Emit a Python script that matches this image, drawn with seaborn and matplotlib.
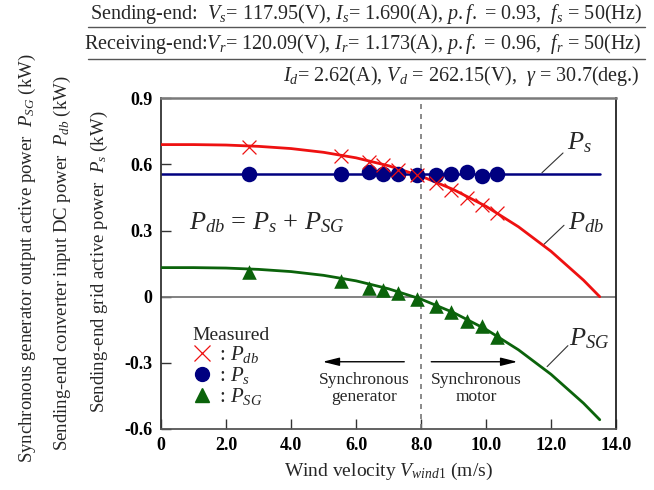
import matplotlib
matplotlib.use("Agg")
import matplotlib.pyplot as plt
import seaborn as sns
import pandas as pd
from matplotlib.lines import Line2D

# ---------------- data ----------------
# measured points (wind velocity m/s)
v_meas = [2.70, 5.54, 6.41, 6.84, 7.30, 7.89, 8.46, 8.91, 9.40, 9.88, 10.35]
pdb_meas = [0.680, 0.638, 0.611, 0.599, 0.573, 0.550, 0.516, 0.486, 0.449, 0.418, 0.380]
ps_meas = [0.557, 0.558, 0.567, 0.558, 0.558, 0.551, 0.550, 0.556, 0.564, 0.546, 0.558]
psg_meas = [0.113, 0.072, 0.038, 0.030, 0.015, -0.010, -0.040, -0.070, -0.111, -0.131, -0.183]

# calculated curves
v_curve = [0, 1, 2, 3, 4, 5, 6, 7, 8, 9, 10, 11, 12, 13, 13.5]
pdb_curve = [0.690, 0.690, 0.688, 0.682, 0.672, 0.655, 0.630, 0.594, 0.547, 0.486,
             0.410, 0.317, 0.206, 0.075, 0.000]
ps_curve = [0.558] * 15
psg_curve = [0.132, 0.132, 0.130, 0.124, 0.114, 0.097, 0.072, 0.036, -0.011, -0.072,
             -0.148, -0.241, -0.352, -0.483, -0.558]

x_ticks = [0, 2, 4, 6, 8, 10, 12, 14]
x_ticklabels = ["0", "2.0", "4.0", "6.0", "8.0", "10.0", "12.0", "14.0"]
y_ticks = [-0.6, -0.3, 0, 0.3, 0.6, 0.9]
y_ticklabels = ["-0.6", "-0.3", "0", "0.3", "0.6", "0.9"]

header1 = r"Sending-end:  $V_s$= 117.95(V), $I_s$= 1.690(A), $p.f.$ = 0.93,  $f_s$ = 50(Hz)"
header2 = r"Receiving-end:$V_r$= 120.09(V), $I_r$= 1.173(A), $p.f.$ = 0.96,  $f_r$ = 50(Hz)"
header3 = r"$I_d$= 2.62(A), $V_d$ = 262.15(V),  $\gamma$ = 30.7(deg.)"

# ---------------- style ----------------
sns.set_style("ticks")
plt.rcParams["font.family"] = ["Liberation Serif", "DejaVu Serif"]
plt.rcParams["mathtext.fontset"] = "custom"
plt.rcParams["mathtext.rm"] = "Liberation Serif"
plt.rcParams["mathtext.it"] = "Liberation Serif:italic"
plt.rcParams["mathtext.bf"] = "Liberation Serif:bold"

RED = "#ee1111"
BLUE = "#000080"
GREEN = "#0b630b"

fig = plt.figure(figsize=(6.54, 4.90), dpi=100)
ax = fig.add_axes([0.2462, 0.1245, 0.6957, 0.6749])

curves = pd.DataFrame({"v": v_curve, "pdb": pdb_curve, "ps": ps_curve, "psg": psg_curve})
meas = pd.DataFrame({"v": v_meas, "pdb": pdb_meas, "ps": ps_meas, "psg": psg_meas})

ax.axhline(0, color="#777777", lw=1.3, zorder=1)
ax.axvline(8, color="#777777", lw=1.2, ls=(0, (3, 3)), zorder=1)

sns.lineplot(data=curves, x="v", y="ps", ax=ax, color=BLUE, lw=1.8, zorder=2)
sns.lineplot(data=curves, x="v", y="pdb", ax=ax, color=RED, lw=2.0, zorder=3)
sns.lineplot(data=curves, x="v", y="psg", ax=ax, color=GREEN, lw=2.0, zorder=3)

sns.scatterplot(data=meas, x="v", y="ps", ax=ax, color=BLUE, marker="o", s=125,
                edgecolor=BLUE, linewidth=0, zorder=4)
sns.scatterplot(data=meas, x="v", y="pdb", ax=ax, color=RED, marker="x", s=100,
                linewidth=0.9, zorder=5)
sns.scatterplot(data=meas, x="v", y="psg", ax=ax, color=GREEN, marker="^", s=110,
                edgecolor=GREEN, linewidth=0, zorder=4)

ax.set_xlim(0, 14)
ax.set_ylim(-0.6, 0.9)
ax.set_xticks(x_ticks)
ax.set_xticklabels(x_ticklabels, fontweight="bold", fontsize=13)
ax.set_yticks(y_ticks)
ax.set_yticklabels(y_ticklabels, fontweight="bold", fontsize=13)
ax.tick_params(direction="in", length=7, width=1, pad=6, colors="#333333", labelcolor="black")
ax.set_xlabel(r"Wind velocity $V_{wind\mathrm{1}}$ (m/s)", fontsize=14, labelpad=5)
ax.set_ylabel("")

for side, col, lw in [("top", "#7a7a7a", 1.8), ("bottom", "#555555", 1.3),
                      ("left", "#333333", 1.3), ("right", "#222222", 1.3)]:
    ax.spines[side].set_visible(True)
    ax.spines[side].set_color(col)
    ax.spines[side].set_linewidth(lw)

# legend
handles = [
    Line2D([], [], ls="none", marker="x", color=RED, ms=11, mew=0.9),
    Line2D([], [], ls="none", marker="o", color=BLUE, ms=10),
    Line2D([], [], ls="none", marker="^", color=GREEN, ms=10),
]
labels = [r": $P_{db}$", r": $P_s$", r": $P_{SG}$"]
leg = ax.legend(handles, labels, title="Measured", loc="upper left",
                bbox_to_anchor=(0.045, 0.34), frameon=False, fontsize=15,
                title_fontsize=14, handlelength=1.0, handletextpad=0.3,
                labelspacing=0.0, borderpad=0.0)
leg._legend_box.align = "left"

# annotations
ax.text(3.27, 0.337, r"$P_{db}$ = $P_s$ + $P_{SG}$", fontsize=19, ha="center", va="center")
ax.text(12.86, 0.70, r"$P_s$", fontsize=19, ha="center", va="center")
ax.plot([11.72, 12.37], [0.562, 0.652], color="#333333", lw=0.8)
ax.text(13.08, 0.337, r"$P_{db}$", fontsize=19, ha="center", va="center")
ax.plot([11.75, 12.40], [0.233, 0.324], color="#333333", lw=0.8)
ax.text(13.17, -0.191, r"$P_{SG}$", fontsize=19, ha="center", va="center")
ax.plot([11.88, 12.52], [-0.317, -0.222], color="#333333", lw=0.8)

ax.annotate("", xy=(4.89, -0.295), xytext=(7.57, -0.295),
            arrowprops=dict(arrowstyle="-|>,head_length=1.0,head_width=0.25", color="black", lw=1.0))
ax.annotate("", xy=(11.05, -0.295), xytext=(8.23, -0.295),
            arrowprops=dict(arrowstyle="-|>,head_length=1.0,head_width=0.25", color="black", lw=1.0))
ax.text(6.25, -0.416, "Synchronous\ngenerator", fontsize=12.5, ha="center", va="center",
        linespacing=1.15)
ax.text(9.69, -0.416, "Synchronous\nmotor", fontsize=12.5, ha="center", va="center",
        linespacing=1.15)

# y labels
fig.text(27 / 654, 1 - 258 / 490, r"Synchronous generator output active power  $P_{SG}$ (kW)",
         rotation=90, ha="center", va="center", fontsize=13.5)
fig.text(62 / 654, 1 - 263 / 490, r"Sending-end converter input DC power  $P_{db}$ (kW)",
         rotation=90, ha="center", va="center", fontsize=13.5)
fig.text(99 / 654, 1 - 262 / 490, r"Sending-end grid active power  $P_s$ (kW)",
         rotation=90, ha="center", va="center", fontsize=13.5)

# headers
fig.text(642 / 654, 1 - 14 / 490, header1, ha="right", va="center", fontsize=14.5)
fig.text(642 / 654, 1 - 44 / 490, header2, ha="right", va="center", fontsize=14.5)
fig.text(640 / 654, 1 - 76 / 490, header3, ha="right", va="center", fontsize=14.5)
fig.add_artist(Line2D([88 / 654, 645 / 654], [1 - 27 / 490, 1 - 27 / 490], color="#555555", lw=1.0))
fig.add_artist(Line2D([88 / 654, 645 / 654], [1 - 59 / 490, 1 - 59 / 490], color="#555555", lw=1.0))

fig.savefig("out.png", dpi=100)
